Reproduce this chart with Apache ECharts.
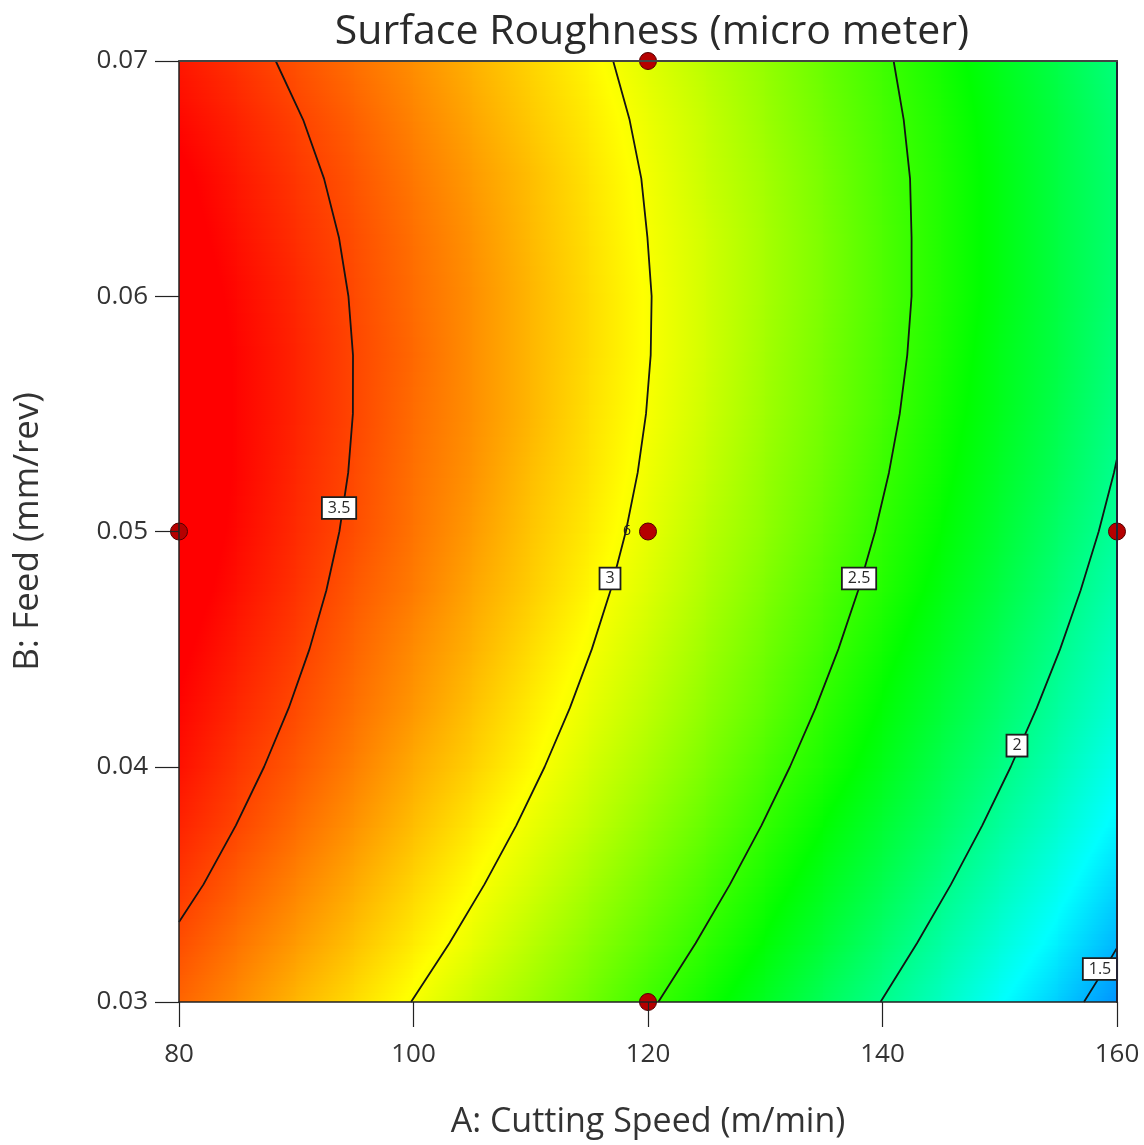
<!DOCTYPE html>
<html>
<head>
<meta charset="utf-8">
<script src="https://cdn.jsdelivr.net/npm/echarts/dist/echarts.min.js"></script>
<style>html,body{margin:0;padding:0;background:#fff}#chart{width:1144px;height:1145px}</style>
</head>
<body>
<div id="chart"></div>
<script>
// ---------------- data ----------------
const chartTitle = 'Surface Roughness (micro meter)';
const xAxisName = 'A: Cutting Speed (m/min)';
const yAxisName = 'B: Feed (mm/rev)';
const speedTicks = [80, 100, 120, 140, 160];
const feedTicks = [0.03, 0.04, 0.05, 0.06, 0.07];

// grid nodes of the response surface
const speedNodes = [80, 85, 90, 95, 100, 105, 110, 115, 120, 125, 130, 135, 140, 145, 150, 155, 160];
const feedNodes = [0.03, 0.0325, 0.035, 0.0375, 0.04, 0.0425, 0.045, 0.0475, 0.05, 0.0525, 0.055, 0.0575, 0.06, 0.0625, 0.065, 0.0675, 0.07];
// surface roughness at each node, one row per feed value (bottom row first)
const surfaceRows = [
  [3.42,3.32,3.21,3.11,3.00,2.88,2.77,2.65,2.52,2.40,2.27,2.13,2.00,1.86,1.71,1.57,1.42],
  [3.48,3.38,3.28,3.18,3.07,2.96,2.84,2.72,2.60,2.48,2.35,2.22,2.08,1.94,1.80,1.66,1.51],
  [3.54,3.44,3.34,3.24,3.13,3.02,2.91,2.79,2.67,2.55,2.42,2.29,2.16,2.02,1.88,1.74,1.59],
  [3.59,3.50,3.40,3.30,3.19,3.08,2.97,2.86,2.74,2.62,2.49,2.36,2.23,2.10,1.96,1.82,1.67],
  [3.64,3.54,3.45,3.35,3.24,3.14,3.03,2.91,2.80,2.68,2.55,2.43,2.30,2.16,2.03,1.89,1.74],
  [3.67,3.58,3.49,3.39,3.29,3.18,3.07,2.96,2.85,2.73,2.61,2.48,2.35,2.22,2.09,1.95,1.81],
  [3.70,3.61,3.52,3.42,3.32,3.22,3.11,3.00,2.89,2.77,2.65,2.53,2.40,2.27,2.14,2.00,1.86],
  [3.73,3.64,3.55,3.45,3.36,3.25,3.15,3.04,2.93,2.81,2.69,2.57,2.45,2.32,2.19,2.05,1.91],
  [3.75,3.66,3.57,3.48,3.38,3.28,3.17,3.07,2.96,2.84,2.73,2.61,2.48,2.36,2.23,2.09,1.96],
  [3.75,3.67,3.58,3.49,3.39,3.30,3.19,3.09,2.98,2.87,2.75,2.64,2.51,2.39,2.26,2.13,1.99],
  [3.76,3.67,3.59,3.50,3.40,3.31,3.21,3.10,3.00,2.89,2.77,2.66,2.54,2.41,2.29,2.16,2.02],
  [3.75,3.67,3.59,3.50,3.41,3.31,3.21,3.11,3.01,2.90,2.78,2.67,2.55,2.43,2.30,2.18,2.04],
  [3.74,3.66,3.58,3.49,3.40,3.31,3.21,3.11,3.01,2.90,2.79,2.68,2.56,2.44,2.32,2.19,2.06],
  [3.72,3.64,3.56,3.48,3.39,3.30,3.20,3.10,3.00,2.90,2.79,2.68,2.56,2.44,2.32,2.19,2.07],
  [3.70,3.62,3.54,3.46,3.37,3.28,3.19,3.09,2.99,2.88,2.78,2.67,2.55,2.44,2.32,2.19,2.07],
  [3.66,3.59,3.51,3.43,3.34,3.25,3.16,3.07,2.97,2.87,2.76,2.65,2.54,2.43,2.31,2.19,2.06],
  [3.62,3.55,3.47,3.39,3.31,3.22,3.13,3.04,2.94,2.84,2.74,2.63,2.52,2.41,2.29,2.17,2.04]
];

// contour lines [speed, feed]
const contour35 = [[88.25,0.0700],[90.59,0.0675],[92.37,0.0650],[93.64,0.0625],[94.45,0.0600],[94.84,0.0575],[94.83,0.0550],[94.43,0.0525],[93.68,0.0500],[92.57,0.0475],[91.13,0.0450],[89.36,0.0425],[87.26,0.0400],[84.84,0.0375],[82.09,0.0350],[80.00,0.0334]];
const contour30 = [[117.03,0.0700],[118.43,0.0675],[119.43,0.0650],[119.95,0.0625],[120.31,0.0600],[120.23,0.0575],[119.83,0.0550],[119.12,0.0525],[118.11,0.0500],[116.81,0.0475],[115.21,0.0450],[113.34,0.0425],[111.19,0.0400],[108.76,0.0375],[106.05,0.0350],[103.06,0.0325],[99.79,0.0300]];
const contour25 = [[140.95,0.0700],[141.81,0.0675],[142.35,0.0650],[142.48,0.0625],[142.48,0.0600],[142.11,0.0575],[141.47,0.0550],[140.55,0.0525],[139.37,0.0500],[137.93,0.0475],[136.24,0.0450],[134.30,0.0425],[132.11,0.0400],[129.67,0.0375],[126.99,0.0350],[124.06,0.0325],[120.88,0.0300]];
const contour20 = [[160.00,0.0531],[159.74,0.0525],[158.44,0.0500],[156.90,0.0475],[155.15,0.0450],[153.16,0.0425],[150.94,0.0400],[148.50,0.0375],[145.84,0.0350],[142.94,0.0325],[139.83,0.0300]];
const contour15 = [[160.00,0.0323],[158.74,0.03125],[157.18,0.0300]];
// contour label anchors [speed, feed, text]
const contourLabelPoints = [[93.65,0.0510,'3.5'],[116.76,0.0480,'3'],[138.00,0.0480,'2.5'],[151.47,0.0409,'2'],[158.55,0.0314,'1.5']];

// design points [speed, feed]
const designPoints = [[80,0.05],[120,0.07],[120,0.05],[160,0.05],[120,0.03]];
const centerReplicates = '6';

// ---------------- colour scale (style) ----------------
const rampValues = [1.04, 1.70, 2.36, 3.02, 3.68];
const rampColors = [[0,0,255],[0,255,255],[0,255,0],[255,255,0],[255,0,0]];
function rampColor(v) {
  if (v <= rampValues[0]) return 'rgb(' + rampColors[0].join(',') + ')';
  for (let k = 0; k < rampValues.length - 1; k++) {
    if (v <= rampValues[k + 1]) {
      const t = (v - rampValues[k]) / (rampValues[k + 1] - rampValues[k]);
      const c = rampColors[k].map((c0, m) => Math.round(c0 + (rampColors[k + 1][m] - c0) * t));
      return 'rgb(' + c.join(',') + ')';
    }
  }
  return 'rgb(' + rampColors[rampColors.length - 1].join(',') + ')';
}
function segmentFill(v0, v1) {
  const stops = [{ offset: 0, color: rampColor(v0) }];
  const lo = Math.min(v0, v1), hi = Math.max(v0, v1);
  rampValues.forEach(s => {
    if (s > lo && s < hi) stops.push({ offset: (s - v0) / (v1 - v0), color: rampColor(s) });
  });
  stops.push({ offset: 1, color: rampColor(v1) });
  stops.sort((p, q) => p.offset - q.offset);
  return new echarts.graphic.LinearGradient(0, 0, 1, 0, stops);
}

// cells between grid nodes: [speed0, speed1, feed0, feed1, v(s0,f0), v(s1,f0), v(s0,f1), v(s1,f1)]
const cells = [];
for (let j = 0; j < feedNodes.length - 1; j++) {
  for (let i = 0; i < speedNodes.length - 1; i++) {
    cells.push([speedNodes[i], speedNodes[i + 1], feedNodes[j], feedNodes[j + 1],
      surfaceRows[j][i], surfaceRows[j][i + 1], surfaceRows[j + 1][i], surfaceRows[j + 1][i + 1]]);
  }
}

const FONT = '"Open Sans", "Noto Sans", sans-serif';
const chart = echarts.init(document.getElementById('chart'), null, { renderer: 'canvas' });

const contourLine = (data) => ({
  type: 'line', data: data, smooth: false, symbol: 'none', z: 3, silent: true,
  lineStyle: { color: '#141414', width: 1.8, join: 'round' }
});

chart.setOption({
  backgroundColor: '#ffffff',
  animation: false,
  title: {
    text: chartTitle, left: 647, top: 7, textAlign: 'center',
    textStyle: { fontFamily: FONT, fontSize: 41, fontWeight: 'normal', color: '#2a2a2a' }
  },
  grid: { left: 179, top: 61, width: 938, height: 941, show: false },
  xAxis: [{
    type: 'value', min: 80, max: 160, interval: 20, z: 10,
    name: xAxisName, nameLocation: 'middle', nameGap: 103,
    nameTextStyle: { fontFamily: FONT, fontSize: 34, color: '#333' },
    axisLine: { show: true, lineStyle: { color: '#222', width: 1.5 } },
    axisTick: { show: true, length: 25, lineStyle: { color: '#222', width: 1.2 } },
    axisLabel: { margin: 40, fontFamily: FONT, fontSize: 26, color: '#333' },
    splitLine: { show: false }
  }, {
    type: 'value', min: 80, max: 160, position: 'top', z: 10,
    axisLine: { show: true, lineStyle: { color: '#444', width: 2 } },
    axisTick: { show: false }, axisLabel: { show: false }, splitLine: { show: false }
  }],
  yAxis: [{
    type: 'value', min: 0.03, max: 0.07, interval: 0.01, z: 10,
    name: yAxisName, nameLocation: 'middle', nameGap: 133, nameRotate: 90,
    nameTextStyle: { fontFamily: FONT, fontSize: 35, color: '#333' },
    axisLine: { show: true, lineStyle: { color: '#222', width: 1.5 } },
    axisTick: { show: true, length: 24, lineStyle: { color: '#222', width: 1.2 } },
    axisLabel: { margin: 31, fontFamily: FONT, fontSize: 26, color: '#333', formatter: v => v.toFixed(2) },
    splitLine: { show: false }
  }, {
    type: 'value', min: 0.03, max: 0.07, position: 'right', z: 10,
    axisLine: { show: true, lineStyle: { color: '#223', width: 2 } },
    axisTick: { show: false }, axisLabel: { show: false }, splitLine: { show: false }
  }],
  series: [
    {
      type: 'custom', data: cells, clip: true, z: 1, silent: true,
      encode: { x: [0, 1], y: [2, 3] },
      renderItem: function (params, api) {
        const pTop = api.coord([api.value(0), api.value(3)]);
        const pBot = api.coord([api.value(1), api.value(2)]);
        const x = Math.floor(pTop[0]);
        const w = Math.ceil(pBot[0]) - x + 1;
        const top = pTop[1], h = pBot[1] - pTop[1];
        const n = Math.max(1, Math.ceil(h / 3));
        const vBL = api.value(4), vBR = api.value(5), vTL = api.value(6), vTR = api.value(7);
        const children = [];
        for (let s = 0; s < n; s++) {
          const f = (s + 0.5) / n; // fraction from top
          const vl = vTL * (1 - f) + vBL * f;
          const vr = vTR * (1 - f) + vBR * f;
          const y0 = Math.floor(top + s * h / n);
          const y1 = Math.ceil(top + (s + 1) * h / n);
          children.push({
            type: 'rect',
            shape: { x: x, y: y0, width: w, height: y1 - y0 + 1 },
            style: { fill: segmentFill(vl, vr) }
          });
        }
        return { type: 'group', children: children };
      }
    },
    contourLine(contour35), contourLine(contour30), contourLine(contour25), contourLine(contour20), contourLine(contour15),
    {
      type: 'scatter', data: contourLabelPoints, symbolSize: 1, z: 5, silent: true, clip: false,
      itemStyle: { opacity: 0 },
      label: {
        show: true, position: 'inside', formatter: p => p.data[2], opacity: 1,
        fontFamily: FONT, fontSize: 16, color: '#2a2a2a', backgroundColor: '#ffffff',
        borderColor: '#1e1e1e', borderWidth: 1.8, padding: [3, 5, 1, 5]
      }
    },
    {
      type: 'scatter', z: 6, clip: false, silent: true, symbol: 'circle', symbolSize: 17,
      data: designPoints.map(p => ({
        value: p,
        label: (p[0] === 120 && p[1] === 0.05) ? {
          show: true, position: 'left', distance: 8, formatter: centerReplicates,
          fontFamily: FONT, fontSize: 14, color: '#222'
        } : { show: false }
      })),
      itemStyle: { color: '#b50000', borderColor: '#520000', borderWidth: 1, opacity: 1 }
    }
  ]
});
</script>
</body>
</html>
